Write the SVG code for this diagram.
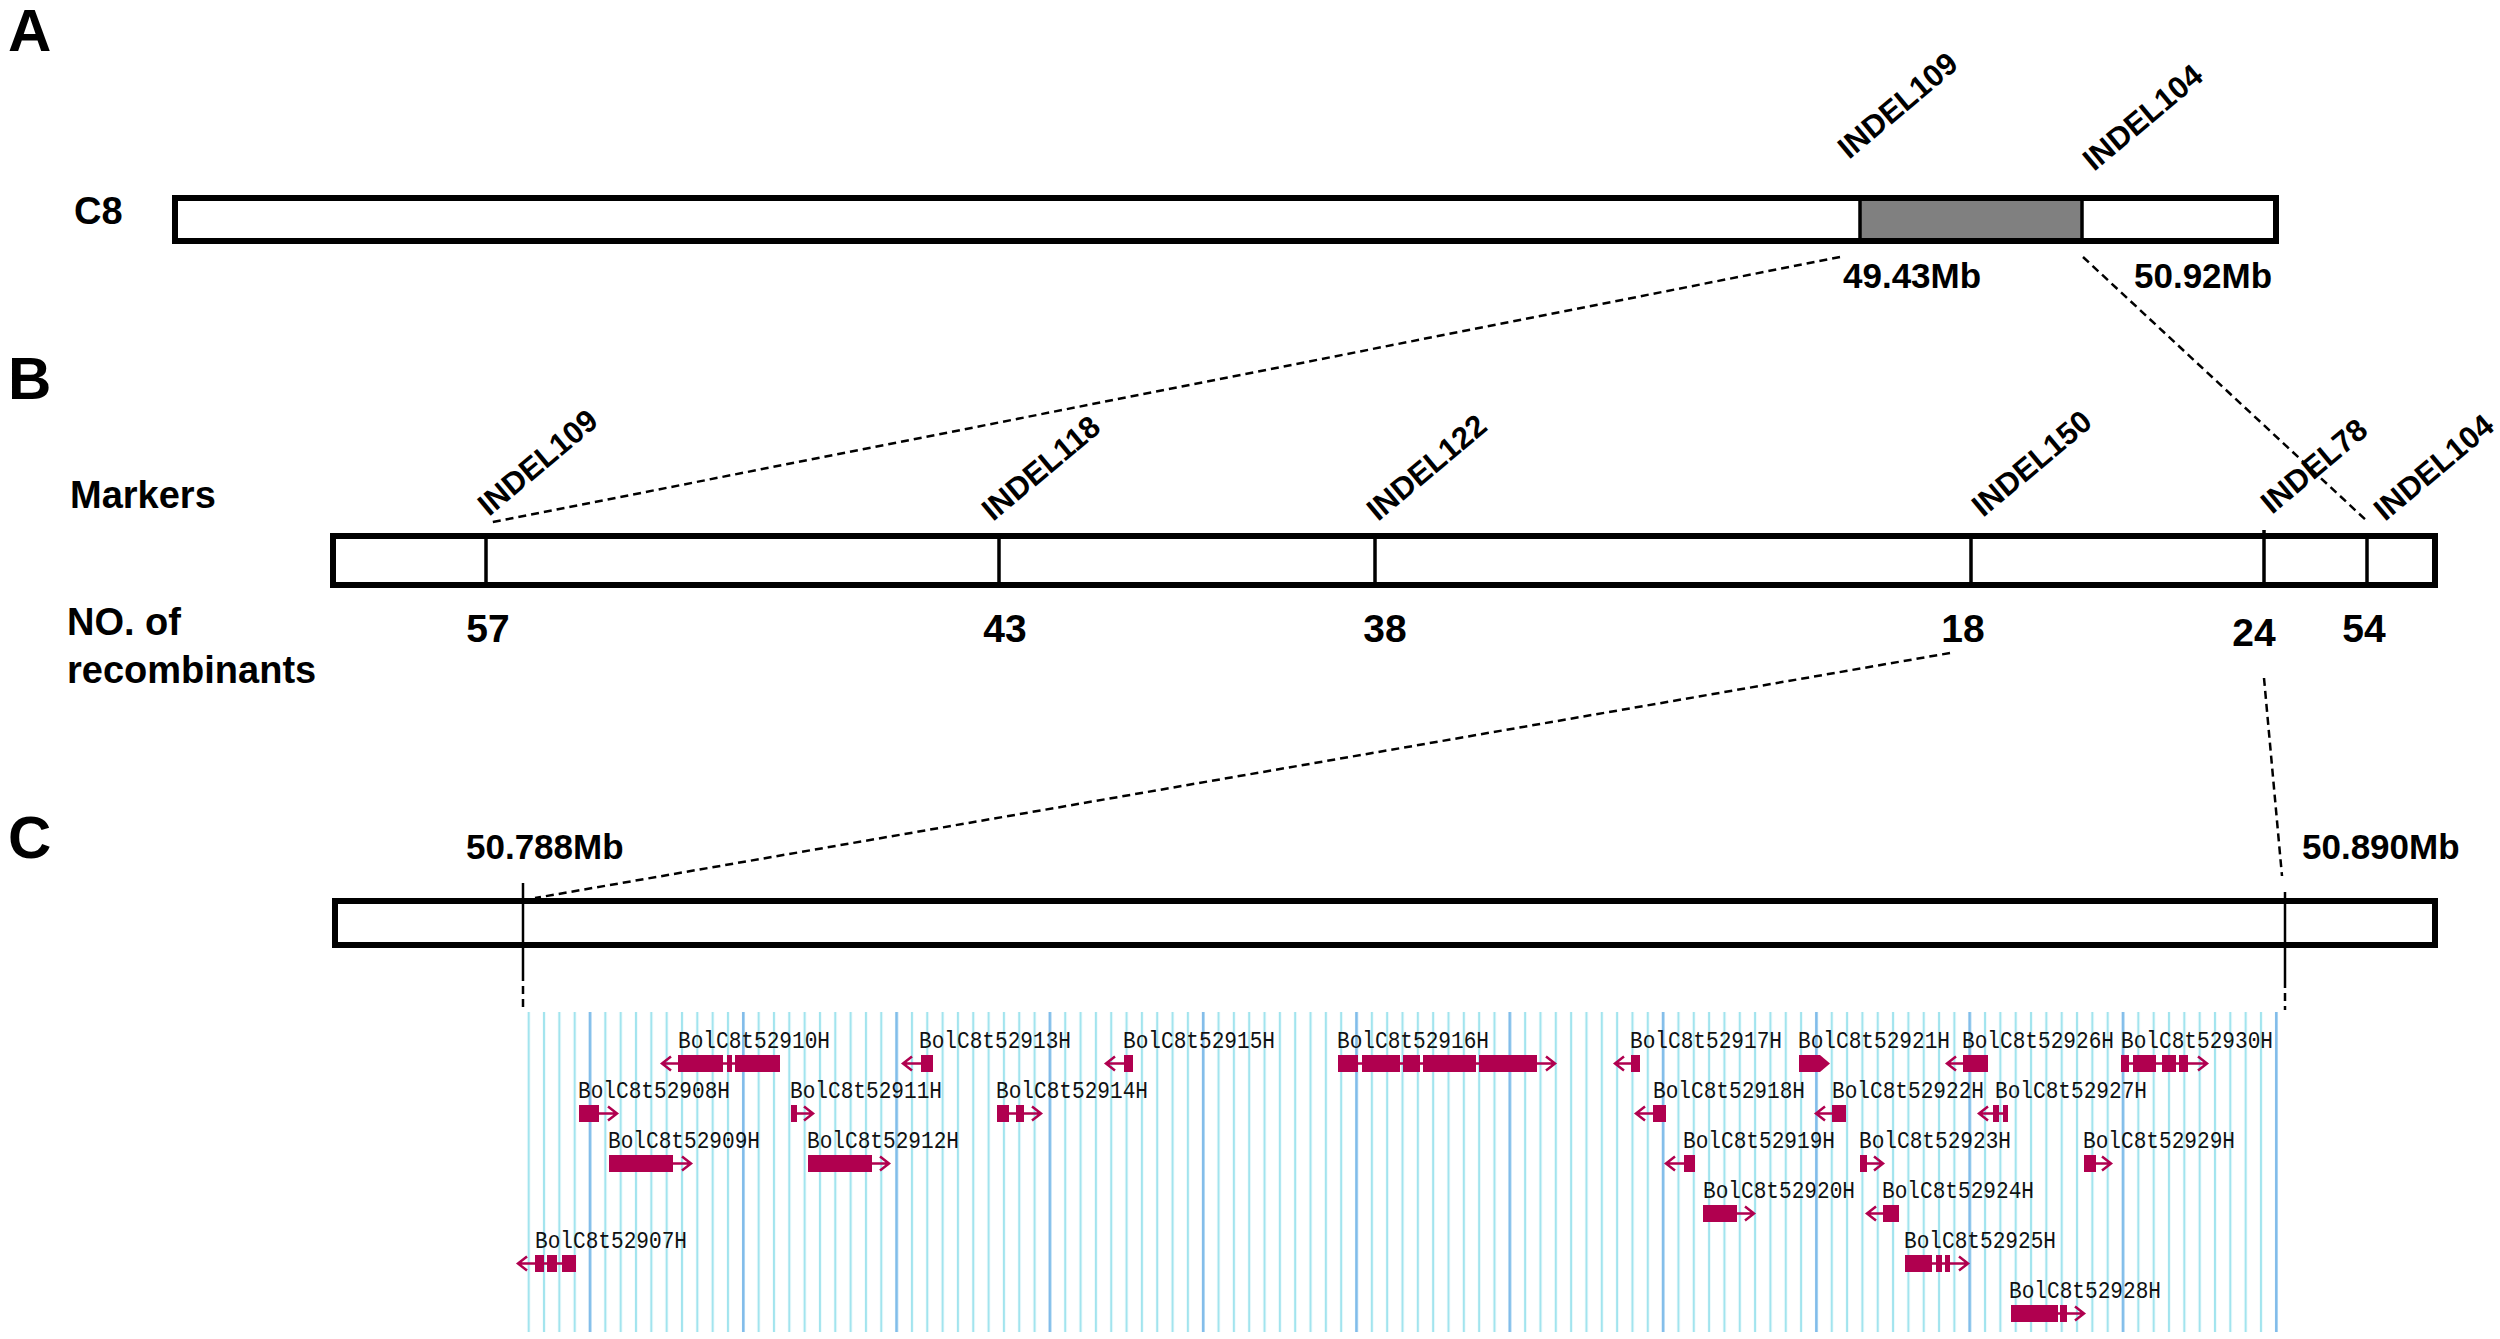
<svg xmlns="http://www.w3.org/2000/svg" width="2500" height="1339" viewBox="0 0 2500 1339">
<defs>
<style>
.lbl{font-family:"Liberation Sans",Arial,sans-serif;font-weight:bold;fill:#000}
.panel{font-size:60px}
.big{font-size:38px}
.num{font-size:39px;text-anchor:middle}
.mb{font-size:35px}
.ind{font-size:31px}
.bar{fill:#fff;stroke:#000;stroke-width:6}
.mk{stroke:#000;stroke-width:3.5}
.dash{stroke:#000;stroke-width:2.5;stroke-dasharray:8 5;fill:none}
.gl{font-family:"Liberation Mono","DejaVu Sans Mono",monospace;font-size:24px;fill:#111}
.ex{fill:#b0004f}
.ar{stroke:#b0004f;stroke-width:2.5;fill:none}
</style>
<pattern id="cyan" patternUnits="userSpaceOnUse" x="521" y="0" width="15.33" height="1339">
<line x1="7.7" y1="0" x2="7.7" y2="1339" stroke="#a2e4ee" stroke-width="2.2"/>
</pattern>
<pattern id="blue" patternUnits="userSpaceOnUse" x="521" y="0" width="153.3" height="1339">
<line x1="69" y1="0" x2="69" y2="1339" stroke="#82bbea" stroke-width="2.5"/>
</pattern>
</defs>
<rect width="2500" height="1339" fill="#fff"/>

<!-- Panel A -->
<g id="panelA">
<text class="lbl panel" x="8" y="51">A</text>
<text class="lbl big" x="74" y="224">C8</text>
<g id="chrC8">
<rect class="bar" x="175" y="198" width="2101" height="43"/>
<rect x="1860" y="201" width="222" height="37" fill="#808080"/>
<line class="mk" x1="1860" y1="198" x2="1860" y2="241" stroke-width="4"/>
<line class="mk" x1="2082" y1="198" x2="2082" y2="241" stroke-width="4"/>
</g>
<text class="lbl ind" transform="translate(1849,160) rotate(-40)">INDEL109</text>
<text class="lbl ind" transform="translate(2094,172) rotate(-40)">INDEL104</text>
<text class="lbl mb" x="1843" y="288">49.43Mb</text>
<text class="lbl mb" x="2134" y="288">50.92Mb</text>
</g>

<!-- Panel B -->
<g id="panelB">
<text class="lbl panel" x="8" y="399">B</text>
<text class="lbl big" x="70" y="508">Markers</text>
<text class="lbl big" x="67" y="635">NO. of</text>
<text class="lbl big" x="67" y="683">recombinants</text>
<g id="markerBar">
<rect class="bar" x="333" y="536" width="2102" height="49"/>
<line class="mk" x1="486" y1="536" x2="486" y2="585"/>
<line class="mk" x1="999" y1="536" x2="999" y2="585"/>
<line class="mk" x1="1375" y1="536" x2="1375" y2="585"/>
<line class="mk" x1="1971" y1="536" x2="1971" y2="585"/>
<line class="mk" x1="2264" y1="530" x2="2264" y2="582"/>
<line class="mk" x1="2367" y1="536" x2="2367" y2="585"/>
</g>
<text class="lbl ind" transform="translate(489,517) rotate(-40)">INDEL109</text>
<text class="lbl ind" transform="translate(993,522) rotate(-40)">INDEL118</text>
<text class="lbl ind" transform="translate(1378,522) rotate(-40)">INDEL122</text>
<text class="lbl ind" transform="translate(1983,518) rotate(-40)">INDEL150</text>
<text class="lbl ind" transform="translate(2272,515) rotate(-40)">INDEL78</text>
<text class="lbl ind" transform="translate(2385,522) rotate(-40)">INDEL104</text>
<text class="lbl num" x="488" y="642">57</text>
<text class="lbl num" x="1005" y="642">43</text>
<text class="lbl num" x="1385" y="642">38</text>
<text class="lbl num" x="1963" y="642">18</text>
<text class="lbl num" x="2254" y="646">24</text>
<text class="lbl num" x="2364" y="642">54</text>
</g>

<!-- Panel C -->
<g id="panelC">
<text class="lbl panel" x="8" y="858">C</text>
<text class="lbl mb" x="466" y="859">50.788Mb</text>
<text class="lbl mb" x="2302" y="859">50.890Mb</text>
<g id="regionBar">
<rect class="bar" x="335" y="901" width="2100" height="44"/>
<line x1="523" y1="883" x2="523" y2="973" stroke="#000" stroke-width="2.5"/>
<line x1="2285" y1="892" x2="2285" y2="980" stroke="#000" stroke-width="2.5"/>
</g>
</g>

<!-- connectors -->
<g id="connectors">
<line class="dash" x1="1840" y1="257" x2="488" y2="523"/>
<line class="dash" x1="2083" y1="257" x2="2368" y2="522"/>
<line class="dash" x1="1950" y1="653" x2="535" y2="898"/>
<line class="dash" x1="2264" y1="678" x2="2282" y2="876"/>
<line class="dash" x1="523" y1="973" x2="523" y2="1010" stroke-width="2" stroke-dasharray="10 6"/>
<line class="dash" x1="2285" y1="980" x2="2285" y2="1010" stroke-width="2" stroke-dasharray="10 6"/>
</g>

<!-- gene browser track -->
<g id="track">
<rect x="521" y="1012" width="1763" height="320" fill="url(#cyan)"/>
<rect x="521" y="1012" width="1763" height="320" fill="url(#blue)"/>
</g>

<g id="genes">
<g id="BolC8t52907H"><text class="gl" x="535" y="1248" textLength="152" lengthAdjust="spacingAndGlyphs">BolC8t52907H</text>
<path class="ar" d="M527,1256.5 L518,1263.5 L527,1270.5 M518,1263.5 H576"/>
<rect class="ex" x="535" y="1255" width="9" height="17"/><rect class="ex" x="547" y="1255" width="10" height="17"/><rect class="ex" x="562" y="1255" width="14" height="17"/></g>

<g id="BolC8t52908H"><text class="gl" x="578" y="1098" textLength="152" lengthAdjust="spacingAndGlyphs">BolC8t52908H</text>
<rect class="ex" x="579" y="1105" width="20" height="17"/>
<path class="ar" d="M599,1113.5 H617 M608,1106.5 L617,1113.5 L608,1120.5"/></g>

<g id="BolC8t52909H"><text class="gl" x="608" y="1148" textLength="152" lengthAdjust="spacingAndGlyphs">BolC8t52909H</text>
<rect class="ex" x="609" y="1155" width="64" height="17"/>
<path class="ar" d="M673,1163.5 H691 M682,1156.5 L691,1163.5 L682,1170.5"/></g>

<g id="BolC8t52910H"><text class="gl" x="678" y="1048" textLength="152" lengthAdjust="spacingAndGlyphs">BolC8t52910H</text>
<path class="ar" d="M671,1056.5 L662,1063.5 L671,1070.5 M662,1063.5 H780"/>
<rect class="ex" x="678" y="1055" width="45" height="17"/><rect class="ex" x="727" y="1055" width="5" height="17"/><rect class="ex" x="735" y="1055" width="45" height="17"/></g>

<g id="BolC8t52911H"><text class="gl" x="790" y="1098" textLength="152" lengthAdjust="spacingAndGlyphs">BolC8t52911H</text>
<rect class="ex" x="791" y="1105" width="6" height="17"/>
<path class="ar" d="M797,1113.5 H813 M804,1106.5 L813,1113.5 L804,1120.5"/></g>

<g id="BolC8t52912H"><text class="gl" x="807" y="1148" textLength="152" lengthAdjust="spacingAndGlyphs">BolC8t52912H</text>
<rect class="ex" x="808" y="1155" width="64" height="17"/>
<path class="ar" d="M872,1163.5 H889 M880,1156.5 L889,1163.5 L880,1170.5"/></g>

<g id="BolC8t52913H"><text class="gl" x="919" y="1048" textLength="152" lengthAdjust="spacingAndGlyphs">BolC8t52913H</text>
<path class="ar" d="M912,1056.5 L903,1063.5 L912,1070.5 M903,1063.5 H921"/>
<rect class="ex" x="921" y="1055" width="12" height="17"/></g>

<g id="BolC8t52914H"><text class="gl" x="996" y="1098" textLength="152" lengthAdjust="spacingAndGlyphs">BolC8t52914H</text>
<rect class="ex" x="997" y="1105" width="12" height="17"/><rect class="ex" x="1016" y="1105" width="8" height="17"/>
<path class="ar" d="M1009,1113.5 H1041 M1032,1106.5 L1041,1113.5 L1032,1120.5"/></g>

<g id="BolC8t52915H"><text class="gl" x="1123" y="1048" textLength="152" lengthAdjust="spacingAndGlyphs">BolC8t52915H</text>
<path class="ar" d="M1115,1056.5 L1106,1063.5 L1115,1070.5 M1106,1063.5 H1124"/>
<rect class="ex" x="1124" y="1055" width="9" height="17"/></g>

<g id="BolC8t52916H"><text class="gl" x="1337" y="1048" textLength="152" lengthAdjust="spacingAndGlyphs">BolC8t52916H</text>
<path class="ar" d="M1338,1063.5 H1555 M1546,1056.5 L1555,1063.5 L1546,1070.5"/>
<rect class="ex" x="1338" y="1055" width="20" height="17"/><rect class="ex" x="1362" y="1055" width="38" height="17"/><rect class="ex" x="1403" y="1055" width="17" height="17"/><rect class="ex" x="1423" y="1055" width="53" height="17"/><rect class="ex" x="1479" y="1055" width="58" height="17"/></g>

<g id="BolC8t52917H"><text class="gl" x="1630" y="1048" textLength="152" lengthAdjust="spacingAndGlyphs">BolC8t52917H</text>
<path class="ar" d="M1624,1056.5 L1615,1063.5 L1624,1070.5 M1615,1063.5 H1631"/>
<rect class="ex" x="1631" y="1055" width="9" height="17"/></g>

<g id="BolC8t52918H"><text class="gl" x="1653" y="1098" textLength="152" lengthAdjust="spacingAndGlyphs">BolC8t52918H</text>
<path class="ar" d="M1645,1106.5 L1636,1113.5 L1645,1120.5 M1636,1113.5 H1653"/>
<rect class="ex" x="1653" y="1105" width="13" height="17"/></g>

<g id="BolC8t52919H"><text class="gl" x="1683" y="1148" textLength="152" lengthAdjust="spacingAndGlyphs">BolC8t52919H</text>
<path class="ar" d="M1675,1156.5 L1666,1163.5 L1675,1170.5 M1666,1163.5 H1684"/>
<rect class="ex" x="1684" y="1155" width="11" height="17"/></g>

<g id="BolC8t52920H"><text class="gl" x="1703" y="1198" textLength="152" lengthAdjust="spacingAndGlyphs">BolC8t52920H</text>
<rect class="ex" x="1703" y="1205" width="34" height="17"/>
<path class="ar" d="M1737,1213.5 H1754 M1745,1206.5 L1754,1213.5 L1745,1220.5"/></g>

<g id="BolC8t52921H"><text class="gl" x="1798" y="1048" textLength="152" lengthAdjust="spacingAndGlyphs">BolC8t52921H</text>
<path class="ex" d="M1799,1055 H1820 L1830,1063.5 L1820,1072 H1799 Z"/></g>

<g id="BolC8t52922H"><text class="gl" x="1832" y="1098" textLength="152" lengthAdjust="spacingAndGlyphs">BolC8t52922H</text>
<path class="ar" d="M1825,1106.5 L1816,1113.5 L1825,1120.5 M1816,1113.5 H1832"/>
<rect class="ex" x="1832" y="1105" width="14" height="17"/></g>

<g id="BolC8t52923H"><text class="gl" x="1859" y="1148" textLength="152" lengthAdjust="spacingAndGlyphs">BolC8t52923H</text>
<rect class="ex" x="1860" y="1155" width="7" height="17"/>
<path class="ar" d="M1867,1163.5 H1883 M1874,1156.5 L1883,1163.5 L1874,1170.5"/></g>

<g id="BolC8t52924H"><text class="gl" x="1882" y="1198" textLength="152" lengthAdjust="spacingAndGlyphs">BolC8t52924H</text>
<path class="ar" d="M1876,1206.5 L1867,1213.5 L1876,1220.5 M1867,1213.5 H1883"/>
<rect class="ex" x="1883" y="1205" width="16" height="17"/></g>

<g id="BolC8t52925H"><text class="gl" x="1904" y="1248" textLength="152" lengthAdjust="spacingAndGlyphs">BolC8t52925H</text>
<path class="ar" d="M1905,1263.5 H1968 M1959,1256.5 L1968,1263.5 L1959,1270.5"/>
<rect class="ex" x="1905" y="1255" width="27" height="17"/><rect class="ex" x="1936" y="1255" width="6" height="17"/><rect class="ex" x="1945" y="1255" width="5" height="17"/></g>

<g id="BolC8t52926H"><text class="gl" x="1962" y="1048" textLength="152" lengthAdjust="spacingAndGlyphs">BolC8t52926H</text>
<path class="ar" d="M1956,1056.5 L1947,1063.5 L1956,1070.5 M1947,1063.5 H1963"/>
<rect class="ex" x="1963" y="1055" width="25" height="17"/></g>

<g id="BolC8t52927H"><text class="gl" x="1995" y="1098" textLength="152" lengthAdjust="spacingAndGlyphs">BolC8t52927H</text>
<path class="ar" d="M1988,1106.5 L1979,1113.5 L1988,1120.5 M1979,1113.5 H2008"/>
<rect class="ex" x="1993" y="1105" width="6" height="17"/><rect class="ex" x="2003" y="1105" width="5" height="17"/></g>

<g id="BolC8t52928H"><text class="gl" x="2009" y="1298" textLength="152" lengthAdjust="spacingAndGlyphs">BolC8t52928H</text>
<path class="ar" d="M2011,1313.5 H2084 M2075,1306.5 L2084,1313.5 L2075,1320.5"/>
<rect class="ex" x="2011" y="1305" width="47" height="17"/><rect class="ex" x="2060" y="1305" width="7" height="17"/></g>

<g id="BolC8t52929H"><text class="gl" x="2083" y="1148" textLength="152" lengthAdjust="spacingAndGlyphs">BolC8t52929H</text>
<rect class="ex" x="2084" y="1155" width="12" height="17"/>
<path class="ar" d="M2096,1163.5 H2111 M2102,1156.5 L2111,1163.5 L2102,1170.5"/></g>

<g id="BolC8t52930H"><text class="gl" x="2121" y="1048" textLength="152" lengthAdjust="spacingAndGlyphs">BolC8t52930H</text>
<path class="ar" d="M2121,1063.5 H2207 M2198,1056.5 L2207,1063.5 L2198,1070.5"/>
<rect class="ex" x="2121" y="1055" width="8" height="17"/><rect class="ex" x="2133" y="1055" width="23" height="17"/><rect class="ex" x="2162" y="1055" width="14" height="17"/><rect class="ex" x="2179" y="1055" width="9" height="17"/></g>
</g>
</svg>
